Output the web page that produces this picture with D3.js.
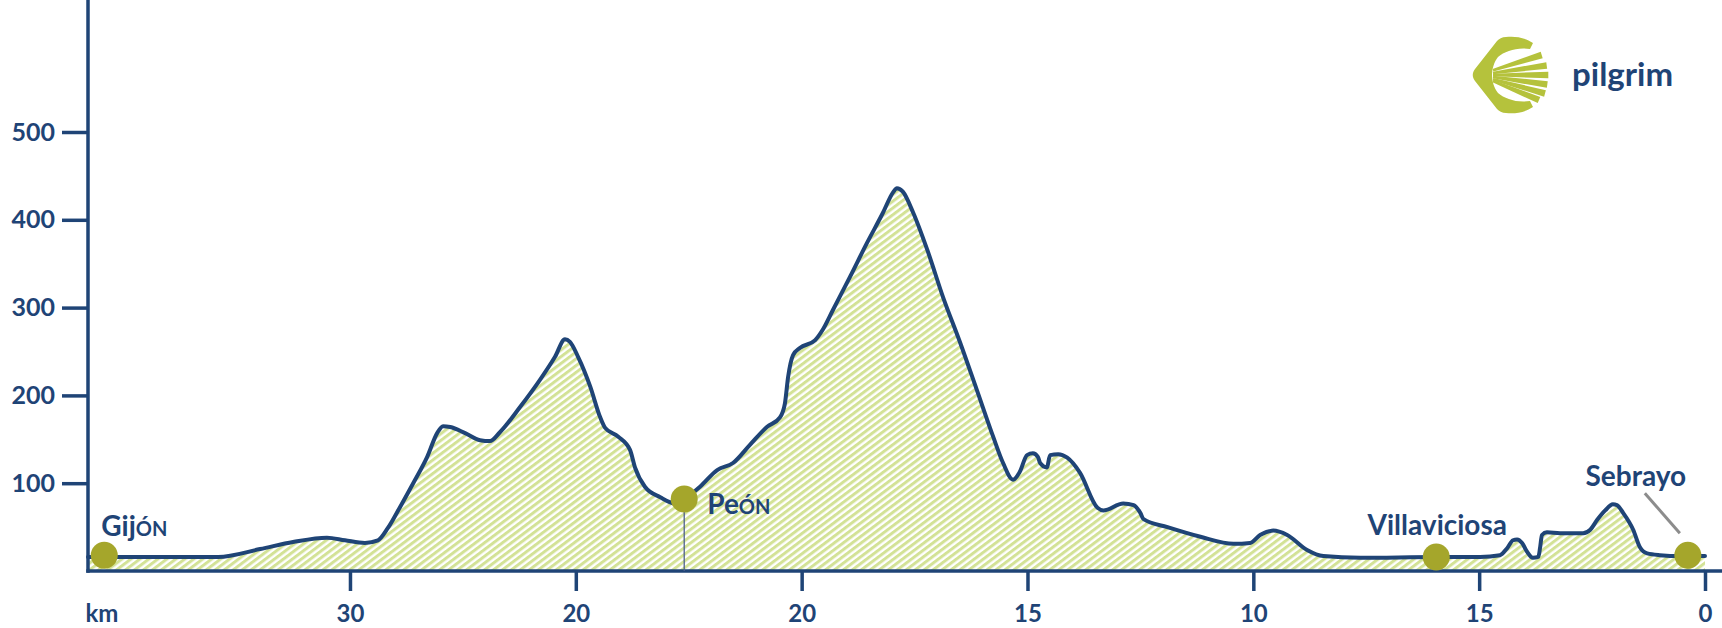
<!DOCTYPE html>
<html><head><meta charset="utf-8">
<script src="https://cdn.jsdelivr.net/npm/d3@7"></script>
<style>
html,body{margin:0;padding:0;background:#fff;}
svg{display:block;font-family:Lato,'Open Sans',sans-serif;font-weight:700;}
</style></head><body>
<svg id="chart" width="1722" height="628"></svg>
<script>
// ---------- DATA ----------
// distance remaining (km) along the stage, and elevation (m)
const profileKm = [35.8,32.92,31.99,31.26,30.51,30.11,29.67,29.38,29.16,28.89,28.60,28.29,28.07,27.94,27.78,27.45,27.12,26.90,26.68,26.23,25.79,25.46,25.24,25.13,24.95,24.68,24.46,24.35,24.06,23.80,23.69,23.47,23.13,22.80,22.60,22.25,21.87,21.52,21.14,20.77,20.48,20.37,20.30,20.19,20.04,19.70,19.53,19.31,18.93,18.55,18.20,17.98,17.89,17.76,17.53,17.22,16.87,16.49,16.12,15.76,15.54,15.32,15.17,15.01,14.88,14.77,14.72,14.57,14.50,14.32,14.12,13.84,13.45,13.32,12.88,12.65,12.50,12.43,11.90,11.17,10.44,10.07,9.85,9.56,9.25,8.81,8.45,7.63,5.95,4.98,4.54,4.38,4.25,4.16,4.05,3.94,3.81,3.69,3.65,3.61,3.50,3.21,2.70,2.54,2.39,2.21,2.04,1.95,1.81,1.59,1.44,1.28,1.00,0.55,0];
const profileElev = [16,16,25,33,38,35,32,35,49,73,100,130,157,165,164,157,149,148,158,187,218,244,264,261,244,210,175,163,153,138,118,96,84,77,82,96,115,123,144,164,175,191,221,246,254,263,275,297,335,374,408,431,436,432,408,366,312,260,206,153,123,104,113,132,134,130,123,118,132,133,129,112,72,69,77,75,66,59,50,39,31,32,41,46,41,24,17,15,16,16,18,26,35,36,32,22,15,16,27,41,44,43,43,47,58,69,76,75,66,47,27,20,18,17,17];

const placeNames = ["Gijón","Peón","Villaviciosa","Sebrayo"];
const placeKm    = [35.44, 22.60, 5.95, 0.38];
const placeElev  = [18, 82, 16, 18];

const yTicks = [100,200,300,400,500];
const xTickKm = [30,25,20,15,10,5,0];
const xTickLabels = ["30","20","20","15","10","15","0"];
const xUnitLabel = "km";
const logoText = "pilgrim";

// ---------- LAYOUT / STYLE ----------
const W = 1722, H = 628;
const axisX = 88, baseY = 571;
const navy = "#1f4476", dotColor = "#a5a62b", hatch = "#d3e296", leaderGrey = "#8c8c8c", shell = "#b5c23c";
const labelLayout = {
  "Gijón":        {anchor:"start",  dx:-3,  dy:-19},
  "Peón":         {anchor:"start",  dx:23,  dy:15, stem:true},
  "Villaviciosa": {anchor:"middle", dx:1,   dy:-22},
  "Sebrayo":      {anchor:"middle", dx:-52, dy:-69, leader:[-43,-62,-8,-22]}
};

const x = d3.scaleLinear().domain([35.8, 0]).range([axisX, 1705]);
const y = d3.scaleLinear().domain([0, 500]).range([baseY, 132]);

const svg = d3.select("#chart");
const defs = svg.append("defs");
const pat = defs.append("pattern").attr("id","hatch").attr("patternUnits","userSpaceOnUse")
  .attr("width",12).attr("height",5.4).attr("patternTransform","rotate(-37)");
pat.append("rect").attr("width",12).attr("height",5.4).attr("fill","#fff");
pat.append("rect").attr("width",12).attr("height",3.0).attr("fill",hatch);

const profile = profileKm.map((k,i)=>({k, e:profileElev[i]}));

// area
svg.append("path").datum(profile)
  .attr("d", d3.area().x(d=>x(d.k)).y0(baseY).y1(d=>y(d.e)).curve(d3.curveMonotoneX))
  .attr("fill","url(#hatch)");

// line
svg.append("path").datum(profile)
  .attr("d", d3.line().x(d=>x(d.k)).y(d=>y(d.e)).curve(d3.curveMonotoneX))
  .attr("fill","none").attr("stroke",navy).attr("stroke-width",4)
  .attr("stroke-linejoin","round").attr("stroke-linecap","round");

// Y axis
const yAxis = svg.append("g").attr("transform",`translate(${axisX},0)`)
  .call(d3.axisLeft(y).tickValues(yTicks).tickSize(26).tickPadding(7).tickFormat(d3.format("d")));
yAxis.select(".domain").remove();
yAxis.selectAll(".tick line").attr("stroke",navy).attr("stroke-width",3.5);
yAxis.selectAll(".tick text").attr("fill",navy).attr("font-size",25).attr("font-family","Lato,sans-serif").attr("font-weight",700);
svg.append("line").attr("x1",axisX).attr("x2",axisX).attr("y1",0).attr("y2",baseY+1.75)
  .attr("stroke",navy).attr("stroke-width",3.5);

// X axis
const xAxis = svg.append("g").attr("transform",`translate(0,${baseY})`)
  .call(d3.axisBottom(x).tickValues(xTickKm).tickSize(20).tickPadding(14).tickFormat((d,i)=>xTickLabels[i]));
xAxis.select(".domain").remove();
xAxis.selectAll(".tick line").attr("stroke",navy).attr("stroke-width",3.5);
xAxis.selectAll(".tick text").attr("fill",navy).attr("font-size",24).attr("font-family","Lato,sans-serif").attr("font-weight",700);
svg.append("line").attr("x1",axisX-1.75).attr("x2",W).attr("y1",baseY).attr("y2",baseY)
  .attr("stroke",navy).attr("stroke-width",3.5);
svg.append("text").attr("x",102).attr("y",baseY+34).attr("dy","0.71em").attr("text-anchor","middle")
  .attr("fill",navy).attr("font-size",24).text(xUnitLabel);

// places
const places = placeNames.map((n,i)=>({n, k:placeKm[i], e:placeElev[i], L:labelLayout[n]}));
places.filter(p=>p.L.stem).forEach(p=>{
  svg.append("line").attr("x1",x(p.k)).attr("x2",x(p.k)).attr("y1",y(p.e)).attr("y2",baseY)
    .attr("stroke","#4d5f8c").attr("stroke-width",1.3);
});
places.filter(p=>p.L.leader).forEach(p=>{
  const [a,b,c,d] = p.L.leader;
  svg.append("line").attr("x1",x(p.k)+a).attr("y1",y(p.e)+b).attr("x2",x(p.k)+c).attr("y2",y(p.e)+d)
    .attr("stroke",leaderGrey).attr("stroke-width",3);
});
svg.selectAll("circle.place").data(places).join("circle").attr("class","place")
  .attr("cx",d=>x(d.k)).attr("cy",d=>y(d.e)).attr("r",13.5).attr("fill",dotColor);

places.forEach(p=>{
  const t = svg.append("text").attr("x",x(p.k)+p.L.dx).attr("y",y(p.e)+p.L.dy)
    .attr("text-anchor",p.L.anchor).attr("fill",navy).attr("font-size",28);
  const m = p.n.match(/^(.*?)(ón)$/);
  if (m) {
    t.append("tspan").text(m[1]);
    t.append("tspan").style("font-variant","small-caps").text(m[2]);
  } else t.text(p.n);
});

// logo
const logo = svg.append("g").attr("transform","translate(1472,37)");
logo.append("path").attr("fill",shell).attr("d",
 "M61,6 C52,0 42,-1 34,0 C30,0 27,2 25,4 L3,32 C0,36 0,40 3,44 L25,72 C27,74 30,76 34,76 C42,77 52,76 61,70 L58,64 C45,66 33,62 26,56 C22,51 20,44 20,38 C20,32 22,25 26,20 C33,14 45,10 58,12 Z");
const F = [6,38];
const rayEnds = [[69.7,18],[74.7,28.5],[76.3,38],[75.3,47.5],[73,56.5],[67,63]];
rayEnds.forEach(([ex,ey])=>{
  const dxr = ex-F[0], dyr = ey-F[1], len = Math.hypot(dxr,dyr);
  const ux = dxr/len, uy = dyr/len, nx = -uy, ny = ux;
  const t0 = (21-F[0])/ux;
  const sx = F[0]+ux*t0, sy = F[1]+uy*t0;
  const w0 = 1.3, w1 = 3.3;
  const pts = [[sx+nx*w0,sy+ny*w0],[ex+nx*w1,ey+ny*w1],[ex-nx*w1,ey-ny*w1],[sx-nx*w0,sy-ny*w0]];
  logo.append("path").attr("fill",shell).attr("d","M"+pts.map(p=>p.join(",")).join("L")+"Z");
});
svg.append("text").attr("x",1572).attr("y",86).attr("fill",navy).attr("font-size",33).text(logoText);
</script>
</body></html>
